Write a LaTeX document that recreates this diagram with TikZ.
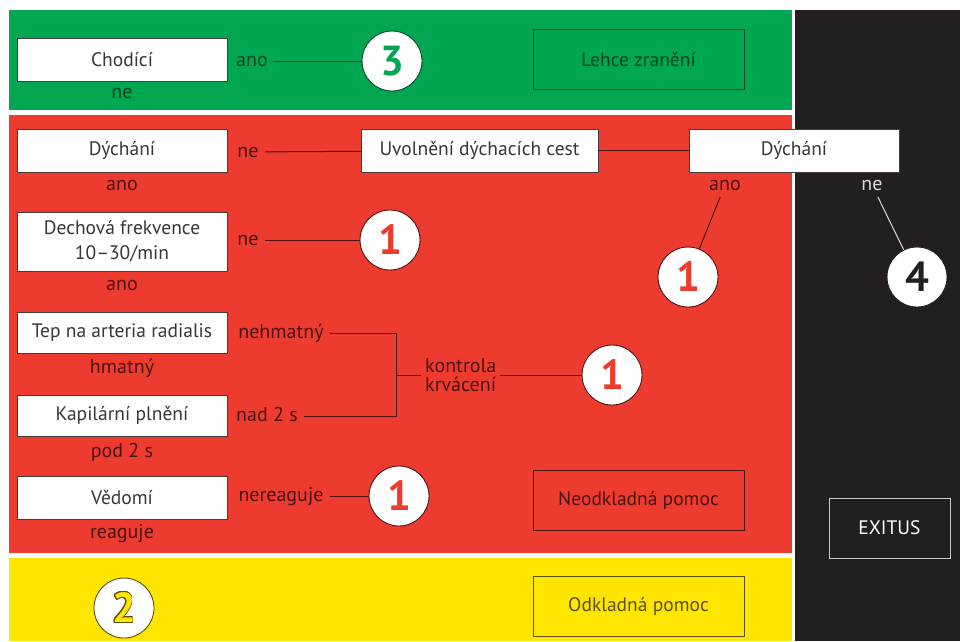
\documentclass[tikz,border=0pt]{standalone}
\usepackage{fontspec}
\setmainfont{PT Sans}
\usepackage{contour}
\contourlength{0.9pt}
\definecolor{grn}{RGB}{0,166,81}
\definecolor{redbg}{RGB}{238,59,47}
\definecolor{ylw}{RGB}{255,230,0}
\definecolor{blk}{RGB}{35,31,32}
\definecolor{dkgrn}{RGB}{12,70,35}
\definecolor{dkred}{RGB}{75,18,16}
\definecolor{dkylw}{RGB}{90,80,10}
\definecolor{boxtext}{RGB}{55,55,55}
\definecolor{boxline}{RGB}{70,60,60}
\tikzset{
  box/.style={draw=boxline, fill=white, text=boxtext, minimum width=210pt, minimum height=43pt,
    inner sep=0pt, align=center, font=\fontsize{19.5}{25}\selectfont},
  target/.style={draw=#1, line width=1pt, text=#1, minimum width=211pt, minimum height=60pt,
    inner sep=0pt, font=\fontsize{19.5}{25}\selectfont},
  num/.style={circle, fill=white, draw=#1, line width=0.9pt, minimum size=60pt, inner sep=0pt,
    font=\fontsize{42}{42}\selectfont\bfseries},
  lbl/.style={text=#1, inner xsep=6pt, inner ysep=3pt, text height=10pt, text depth=0pt,
    font=\fontsize{20}{22}\selectfont},
  wire/.style={draw=#1, line width=1pt}
}
\begin{document}
\begin{tikzpicture}[x=1pt,y=-1pt]
\useasboundingbox (0,0) rectangle (960,641);
%bands
\fill[grn] (9,10) rectangle (792,110);
\fill[redbg] (9,115) rectangle (792,553);
\fill[ylw] (9,558) rectangle (792,641);
\fill[blk] (795,10) rectangle (960,641);
%green band
\node[box] (chod) at (122,60) {Chodící};
\node[lbl=dkgrn] (chodano) at (252,61) {ano};
\node[lbl=dkgrn] (chodne) at (122,93) {ne};
\node[num=dkgrn,text=grn] (c3) at (392,61) {3};
\node[target=dkgrn] (lehce) at (638.5,59.5) {Lehce zranění};
\draw[wire=dkgrn] (chodano) -- (c3);
%red band
\node[box] (dych) at (122,150.5) {Dýchání};
\node[lbl=dkred] (dychne) at (248,152) {ne};
\node[lbl=dkred] (dychano) at (122,185) {ano};
\node[box, minimum width=237pt] (uvol) at (479.5,150.5) {Uvolnění dýchacích cest};
\node[box] (dych2) at (794,150.5) {Dýchání};
\node[lbl=dkred] (dych2ano) at (725,185) {ano};
\node[lbl={white!85!black}] (dych2ne) at (872,185) {ne};
\node[num=dkred,text=redbg] (c1a) at (688,277) {1};
\node[num=blk,text=blk] (c4) at (917,277) {4};
\draw[wire=dkred] (dychne) -- (uvol);
\draw[wire=dkred] (uvol) -- (dych2);
\draw[wire=dkred,shorten <=4pt] (dych2ano) -- (c1a);
\draw[wire={white!85!black},shorten <=4pt] (dych2ne) -- (c4);
\node[box, minimum height=59pt] (dech) at (122,241.5) {Dechová frekvence\\10–30/min};
\node[lbl=dkred] (dechne) at (248,240) {ne};
\node[lbl=dkred] (dechano) at (122,285) {ano};
\node[num=dkred,text=redbg] (c1b) at (390,240) {1};
\draw[wire=dkred] (dechne) -- (c1b);
\node[box, minimum height=41pt] (tep) at (122,333) {Tep na arteria radialis};
\node[lbl=dkred] (tepne) at (281,333) {nehmatný};
\node[lbl=dkred] (tepano) at (122,368) {hmatný};
\node[box, minimum height=41pt] (kap) at (122,415.5) {Kapilární plnění};
\node[lbl=dkred] (kapne) at (267,416) {nad 2 s};
\node[lbl=dkred] (kapano) at (122,452) {pod 2 s};
\coordinate (brk) at (396,375);
\node[text=dkred, anchor=west, align=left, inner sep=4pt, font=\fontsize{20}{19}\selectfont]
  (kontr) at (421,375) {kontrola\\krvácení};
\node[num=dkred,text=redbg] (c1c) at (612,375) {1};
\draw[wire=dkred] (tepne.east) -- (tepne.east -| brk) -- (kapne.east -| brk) -- (kapne.east);
\draw[wire=dkred] (brk) -- (kontr.west);
\draw[wire=dkred] (kontr) -- (c1c);
\node[box] (ved) at (122,497.5) {Vědomí};
\node[lbl=dkred] (vedne) at (281,496) {nereaguje};
\node[lbl=dkred] (vedano) at (122,533) {reaguje};
\node[num=dkred,text=redbg] (c1d) at (399,496) {1};
\draw[wire=dkred] (vedne) -- (c1d);
\node[target=dkred] (neodk) at (638.5,500) {Neodkladná pomoc};
%yellow band
\node[num=dkylw] (c2) at (124,608) {\contour{dkylw}{\textcolor{ylw}{2}}};
\node[target=dkylw] (odk) at (638.5,606) {Odkladná pomoc};
%black band
\node[target={white!80!black}, minimum width=121pt, text=white] (exitus) at (889.5,528) {EXITUS};
\end{tikzpicture}
\end{document}
